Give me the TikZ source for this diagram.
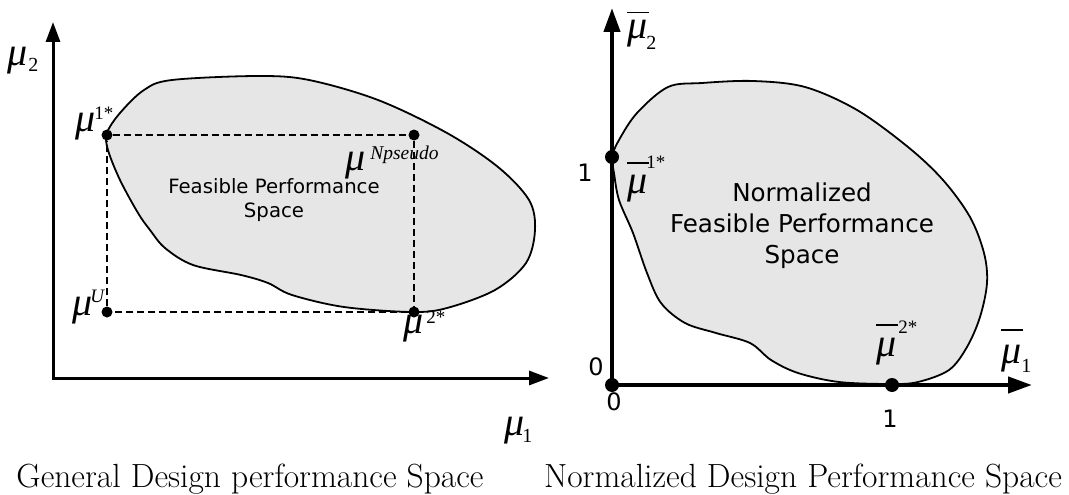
\documentclass[tikz,border=0pt]{standalone}
\usepackage{fontspec}
\newfontfamily\tnr{Liberation Serif}
\newfontfamily\dvs{DejaVu Sans}
\usetikzlibrary{arrows.meta}
\definecolor{blobfill}{HTML}{E6E6E6}
\newcommand\mumu{{\tnr\itshape\fontsize{40}{40}\selectfont μ}}
\newcommand\supx[3]{\raisebox{#1}{\tnr\fontsize{#2}{#2}\selectfont #3}}
\newcommand\ovmu[1]{\leavevmode\rlap{\raisebox{#1}{\rule{22pt}{1.4pt}}}\mumu}
\begin{document}
\begin{tikzpicture}[x=1pt,y=-1pt,
  blackdotL/.style={circle,fill=black,inner sep=0pt,minimum size=11pt},
  blackdotR/.style={circle,fill=black,inner sep=0pt,minimum size=14pt},
  dashline/.style={line width=1.2pt,dash pattern=on 7pt off 4pt},
  blob/.style={draw=black,line width=1.8pt,fill=blobfill},
  axisL/.style={line width=3pt,{Triangle[length=20pt,width=14pt]}-{Triangle[length=20pt,width=14pt]}},
  axisR/.style={line width=4.2pt,{Triangle[length=24pt,width=16pt]}-{Triangle[length=24pt,width=16pt]}},
  lbl/.style={inner sep=0pt,anchor=base west},
  sanslbl/.style={inner sep=0pt,font=\dvs\fontsize{24}{28}\selectfont},
  caption/.style={inner sep=0pt,anchor=base,font=\fontsize{33.5}{38}\selectfont}]
\useasboundingbox (0,0) rectangle (1069,495);

% ---------- left panel ----------
\path[blob] plot[smooth cycle,tension=0.55] coordinates {
 (107,133) (120,113) (144,90) (172,80) (258,76) (309,80) (378,100) (447,133)
 (498,167) (529,200) (535,230) (526,263) (495,290) (447,308) (412,312)
 (344,307) (292,295) (268,283) (241,275) (193,265) (165,248) (150,230)
 (138,213) (120,180) (108,150)};
\node[align=center,inner sep=0pt,font=\dvs\fontsize{19.7}{23.5}\selectfont] (fps) at (274,200) {Feasible Performance\\Space};

\coordinate (OL) at (53,378);
\coordinate (YL) at (53,22);
\coordinate (XL) at (549,378);

\node[blackdotL] (p1) at (107,135) {};
\node[blackdotL] (pN) at (414,135) {};
\node[blackdotL] (pU) at (107,312) {};
\node[blackdotL] (p2) at (414,312) {};

\draw[dashline] (p1) -- (pN);
\draw[dashline] (pN) -- (p2);
\draw[dashline] (p2) -- (pU);
\draw[dashline] (pU) -- (p1);

\draw[axisL] (YL) -- (OL) -- (XL);

\node[lbl] (l1) at (75,131.5) {\mumu\kern-1pt\supx{12pt}{19}{1*}};
\node[lbl] (lU) at (72,315.5) {\mumu\kern-2pt\supx{13pt}{19}{\itshape U}};
\node[lbl] (lN) at (345,170.5) {\mumu\kern5pt\supx{11pt}{19.5}{\itshape Npseudo}};
\node[lbl] (l2) at (403,333.5) {\mumu\kern3pt\supx{10.5pt}{19}{2*}};
\node[lbl] (ly) at (7,65.5) {\mumu\kern1pt\supx{-6.5pt}{20}{2}};
\node[lbl] (lx) at (504,435.5) {\mumu\kern-2pt\supx{-6.5pt}{20}{1}};

% ---------- right panel ----------
\path[blob] plot[smooth cycle,tension=0.55] coordinates {
 (612,157) (619,140) (637,113) (668,87) (702,83) (753,81) (805,87) (857,110)
 (908,147) (943,180) (970,217) (984,253) (987,283) (980,317) (967,347)
 (949,370) (918,382) (891,384) (839,382) (798,373) (771,360) (750,343)
 (716,333) (685,323) (661,303) (647,273) (633,233) (619,200) (614,173)};
\node[align=center,inner sep=0pt,font=\dvs\fontsize{24.6}{31}\selectfont] (nfps) at (802,226) {Normalized\\Feasible Performance\\Space};

\coordinate (OR) at (612,385);
\coordinate (YR) at (612,8);
\coordinate (XR) at (1032,385);
\draw[axisR] (YR) -- (OR) -- (XR);

\node[blackdotR] (q1) at (612,157) {};
\node[blackdotR] (q0) at (612,385) {};
\node[blackdotR] (q2) at (892,385) {};

\node[sanslbl] (t1) at (585,173) {1};
\node[sanslbl] (t0) at (596,367) {0};
\node[sanslbl] (b0) at (614,402) {0};
\node[sanslbl] (b1) at (890,419) {1};

\node[lbl] (r1) at (627,193.5) {\ovmu{30pt}\kern-1pt\supx{25.5pt}{19}{1*}};
\node[lbl] (r2) at (876,356.5) {\ovmu{31pt}\kern2pt\supx{23.5pt}{19}{2*}};
\node[lbl] (ry) at (627,38.5) {\ovmu{25pt}\kern-1pt\supx{-11pt}{20}{2}};
\node[lbl] (rx) at (1001,363.5) {\ovmu{33pt}\kern0pt\supx{-8.5pt}{20}{1}};

% ---------- captions ----------
\node[caption] (c1) at (250,487) {General Design performance Space};
\node[caption] (c2) at (803,487) {Normalized Design Performance Space};
\end{tikzpicture}
\end{document}
